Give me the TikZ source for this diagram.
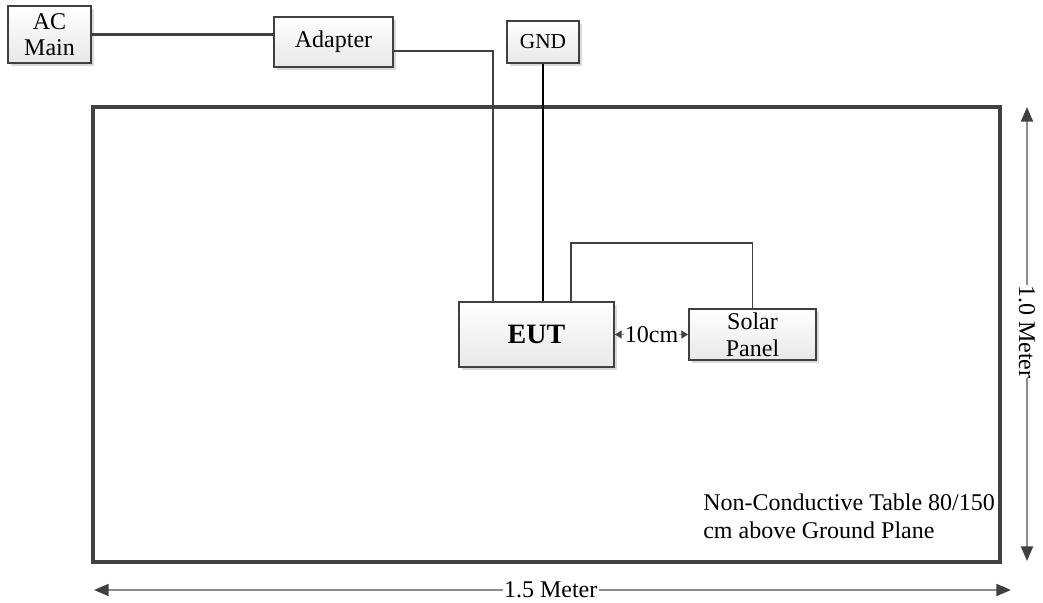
\documentclass[tikz,border=0pt]{standalone}
\usepackage{fontspec}
\setmainfont{Liberation Serif}
\usepackage{tikz}
\usetikzlibrary{arrows.meta,calc,shadows,positioning}
\definecolor{boxline}{HTML}{404040}
\definecolor{dimline}{HTML}{8C8C8C}

\begin{document}
\begin{tikzpicture}[x=0.75pt, y=-0.75pt]
	\tikzstyle{every node} = [font=\fontsize{18}{21}\selectfont, inner sep=0pt]
	\tikzstyle{box} = [draw=boxline, line width=1.5pt, top color=white, bottom color=black!9,
		drop shadow={shadow xshift=2.2pt, shadow yshift=-2.2pt, fill=black!15, opacity=1}, align=center]
	\tikzstyle{wire} = [draw=boxline, line width=1.6pt]
	\tikzstyle{dim} = [draw=dimline, line width=1.5pt, {Triangle[length=11pt,width=9pt,color=boxline]}-{Triangle[length=11pt,width=9pt,color=boxline]}]
	\tikzstyle{gap} = [draw=dimline, line width=1.2pt, {Triangle[length=5pt,width=6pt,color=boxline]}-{Triangle[length=5pt,width=6pt,color=boxline]}]
\useasboundingbox (0,0) rectangle (1043,603);

% table
\draw[draw=boxline, line width=2.6pt] (93,107) rectangle (1000,562);

\node[box, minimum width=62.25pt, minimum height=42.75pt] (ac) at (49.5,34.5) {AC\\[-1.5pt]Main};
\node[box, minimum width=89.25pt, minimum height=37.5pt] (adp) at (333.5,42) {Adapter};
\node[box, minimum width=54pt, minimum height=31.5pt, font=\fontsize{16}{19}\selectfont] (gnd) at (543,42) {GND};
\node[box, minimum width=116.25pt, minimum height=48.75pt, font=\fontsize{21}{25}\selectfont\bfseries] (eut) at (536.5,334.5) {EUT};
\node[box, minimum width=95.25pt, minimum height=38.25pt] (sp) at (752.5,334.5) {Solar\\[-0.5pt]Panel};

	\path[wire] (ac.east) -- (ac.east -| adp.west);
	\path[wire] ([yshift=-6.75pt]adp.east) -| ([xshift=-32.6pt]eut.north);
	\path[draw, line width=1.6pt] (gnd.south) -- (gnd.south |- eut.north);
	\path[draw=boxline, line width=0.9pt] ([xshift=25.9pt]eut.north) -- ++(0,-58) -| (sp.north);

	\path[gap] (eut.east) -- node[fill=white, inner xsep=0.5pt] {10cm} (sp.west);

\coordinate (rt) at (1027,107);
\coordinate (rb) at (1027,561);
\coordinate (bl) at (94,590);
\coordinate (br) at (1011,590);
	\path[dim] (rt) -- node[fill=white, inner ysep=1pt, rotate=-90, pos=0.495] {1.0 Meter} (rb);
	\path[dim] (bl) -- node[fill=white, inner xsep=1pt, pos=0.498] {1.5 Meter} (br);

\node[anchor=north west, align=left] (note) at (703,494) {Non-Conductive Table 80/150\\cm above Ground Plane};
\end{tikzpicture}
\end{document}
